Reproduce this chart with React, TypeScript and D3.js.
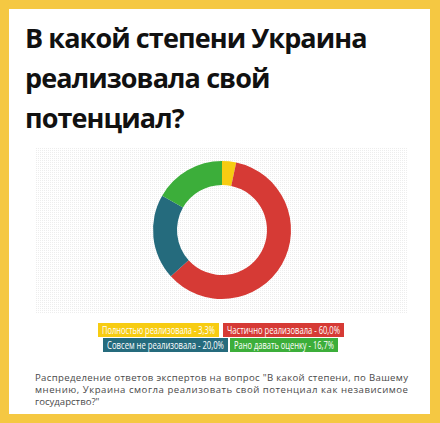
import { useEffect, useRef } from 'react';
import * as d3 from 'd3';

// answer categories, shares and colours
const categories = [
    'Полностью реализовала',
    'Частично реализовала',
    'Совсем не реализовала',
    'Рано давать оценку',
];
const values = [3.3, 60.0, 20.0, 16.7];
const colors = ['#f7cc12', '#d63a35', '#256b7d', '#3cae3a'];

const titleLines = ['В какой степени Украина', 'реализовала свой', 'потенциал?'];
const captionLines = [
    'Распределение ответов экспертов на вопрос "В какой степени, по Вашему',
    'мнению, Украина смогла реализовать свой потенциал как независимое',
    'государство?"',
];

const fmt = (v: number) => v.toFixed(1).replace('.', ',') + '%';

export default function App() {
    const ref = useRef<SVGSVGElement>(null);

    useEffect(() => {
        if (!ref.current) return;
        const svg = d3.select(ref.current);
        svg.selectAll('*').remove();

        const W = 440, H = 423;

        // yellow frame and white panel
        svg.append('rect').attr('width', W).attr('height', H).attr('fill', '#f5c842');
        svg.append('rect')
            .attr('x', 9).attr('y', 9)
            .attr('width', 421).attr('height', 405)
            .attr('fill', '#ffffff');

        // title
        svg.append('g').selectAll('text')
            .data(titleLines)
            .enter()
            .append('text')
            .attr('x', 25)
            .attr('y', (_, i) => 48 + i * 40)
            .style('font-family', '"Open Sans", sans-serif')
            .style('font-weight', 700)
            .style('font-size', '27px')
            .style('letter-spacing', '-0.9px')
            .attr('fill', '#111')
            .text(d => d);

        // faint dotted chart background
        const defs = svg.append('defs');
        const pat = defs.append('pattern')
            .attr('id', 'dots')
            .attr('width', 2).attr('height', 2)
            .attr('patternUnits', 'userSpaceOnUse');
        pat.append('rect').attr('width', 1).attr('height', 1).attr('fill', '#ededed');
        svg.append('rect')
            .attr('x', 35).attr('y', 147)
            .attr('width', 373).attr('height', 166)
            .attr('fill', 'url(#dots)');

        // donut
        const cx = 222, cy = 230;
        const pie = d3.pie<number>().sort(null).value(d => d);
        const arc = d3.arc<d3.PieArcDatum<number>>().innerRadius(45).outerRadius(69);
        svg.append('g')
            .attr('transform', `translate(${cx},${cy})`)
            .selectAll('path')
            .data(pie(values))
            .enter()
            .append('path')
            .attr('d', arc)
            .attr('fill', (_, i) => colors[i]);

        // legend labels: two rows of two
        const legendBoxes = [
            { x: 98, y: 323, w: 121 },
            { x: 223, y: 323, w: 121 },
            { x: 103, y: 338, w: 125 },
            { x: 230, y: 338, w: 108 },
        ];
        const lg = svg.append('g');
        categories.forEach((c, i) => {
            const b = legendBoxes[i];
            lg.append('rect')
                .attr('x', b.x).attr('y', b.y)
                .attr('width', b.w).attr('height', 14)
                .attr('fill', colors[i]);
            const t = lg.append('text')
                .attr('text-anchor', 'middle')
                .style('font-family', '"Open Sans", sans-serif')
                .style('font-size', '10.5px')
                .attr('fill', '#fff')
                .text(`${c} - ${fmt(values[i])}`);
            // squeeze the label horizontally so it fits its box
            const natural = (t.node() as SVGTextElement).getComputedTextLength();
            const sx = Math.min(1, (b.w - 8) / natural);
            t.attr('transform', `translate(${b.x + b.w / 2},${b.y + 10.8}) scale(${sx},1)`);
        });

        // caption, justified lines
        svg.append('g').selectAll('text')
            .data(captionLines)
            .enter()
            .append('text')
            .attr('x', 35)
            .attr('y', (_, i) => 381 + i * 12)
            .attr('textLength', (_, i) => (i < captionLines.length - 1 ? 373 : null) as any)
            .attr('lengthAdjust', 'spacing')
            .style('font-family', '"Open Sans", sans-serif')
            .style('font-size', '9.6px')
            .attr('fill', '#4a4a4a')
            .text(d => d);
    }, []);

    return (
        <svg
            ref={ref}
            width={440}
            height={423}
            style={{ position: 'absolute', left: 0, top: 0 }}
        />
    );
}
